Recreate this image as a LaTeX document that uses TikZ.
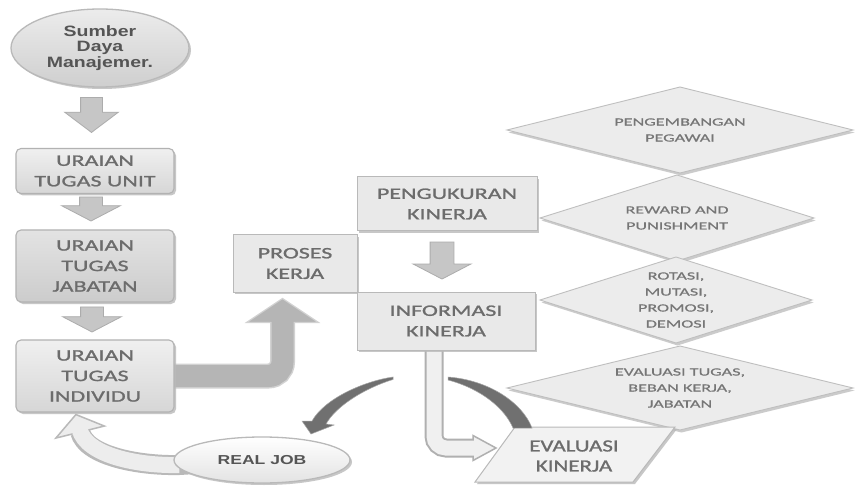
\documentclass[tikz,border=0pt]{standalone}
\usepackage{fontspec}
\usetikzlibrary{shapes.geometric,shapes.arrows,calc,shadows}
\newfontfamily\boxfont{Carlito}[FakeStretch=1.5,FakeBold=1.2]
\newfontfamily\diafont{Carlito}[FakeStretch=1.65,FakeBold=0.8]
\newfontfamily\evfont{Carlito}[FakeStretch=1.35,FakeBold=1.2]
\newfontfamily\sdmfont{Liberation Sans}[FakeStretch=1.3]
\newfontfamily\rjfont{Liberation Sans}[FakeStretch=1.35]
\definecolor{boxtxt}{RGB}{108,108,108}
\definecolor{diatxt}{RGB}{118,118,118}
\definecolor{elltxt}{RGB}{85,85,85}
\definecolor{arcgray}{RGB}{112,112,112}
\pgfdeclarelayer{paper}
\pgfdeclarelayer{links}
\pgfsetlayers{paper,links,main}

\begin{document}
\begin{tikzpicture}[x=1pt,y=-1pt,
  boxtext/.style={text=boxtxt, align=center, font=\boxfont\fontsize{16}{20.5}\selectfont},
  shadowed/.style={drop shadow={shadow xshift=2pt, shadow yshift=-2pt, fill=gray!55, opacity=0.8}},
  lbox/.style={boxtext, shadowed, rectangle, rounded corners=5pt, draw=gray!60, line width=1.1pt,
    top color=gray!12, bottom color=gray!32, minimum width=158pt, inner sep=0pt},
  mbox/.style={boxtext, shadowed, rectangle, draw=gray!55, line width=1pt, fill=gray!17, inner sep=0pt},
  diam/.style={draw=gray!50, line width=0.9pt, fill=gray!15,
    drop shadow={shadow xshift=1.5pt, shadow yshift=-2.5pt, fill=gray!50, opacity=0.8}},
  diatext/.style={text=diatxt, align=center, font=\diafont\fontsize{11}{16}\selectfont, inner sep=0pt},
  downarrow/.style={single arrow, rotate=-90, anchor=tip, draw=gray!65, line width=0.8pt, fill=gray!45,
    inner xsep=0pt, inner ysep=11pt, minimum width=0pt, single arrow head extend=18pt,
    single arrow tip angle=125},
  darkarc/.style={fill=arcgray, draw=gray!70, line width=0.5pt},
]
\begin{pgfonlayer}{paper}
  \fill[white] (0,0) rectangle (859,486);
\end{pgfonlayer}
\useasboundingbox (0,0) rectangle (859,486);

% ---- outcome diamonds ----
\coordinate (c1) at (680,130);
\coordinate (c2) at (677,218);
\coordinate (c3) at (676,300);
\coordinate (c4) at (680,388);
\path[diam] (c1) ++(-173,0) -- ++(173,-43) -- ++(173,43) -- ++(-173,43) -- cycle;
\path[diam] (c2) ++(-137,0) -- ++(137,-43) -- ++(137,43) -- ++(-137,43) -- cycle;
\path[diam] (c3) ++(-136,0) -- ++(136,-43) -- ++(136,43) -- ++(-136,43) -- cycle;
\path[diam] (c4) ++(-173,0) -- ++(173,-42) -- ++(173,42) -- ++(-173,42) -- cycle;
\node[diatext] (d1) at (c1) {PENGEMBANGAN\\PEGAWAI};
\node[diatext] (d2) at (c2) {REWARD AND\\PUNISHMENT};
\node[diatext] (d3) at (c3) {ROTASI,\\MUTASI,\\PROMOSI,\\DEMOSI};
\node[diatext] (d4) at (c4) {EVALUASI TUGAS,\\BEBAN KERJA,\\JABATAN};

% ---- left column ----
\node[ellipse, shadowed, draw=gray!55, line width=1.3pt, top color=gray!15, bottom color=gray!38,
      minimum width=178pt, minimum height=78pt, inner sep=0pt, text=elltxt, align=center,
      font=\sdmfont\bfseries\fontsize{15}{15.5}\selectfont] (sdm) at (100,48) {Sumber\\Daya\\Manajemer.};
\node[lbox, minimum height=45pt] (unit) at (95,171) {URAIAN\\TUGAS UNIT};
\node[lbox, minimum height=72pt, top color=gray!22, bottom color=gray!40] (jab) at (95,266) {URAIAN\\TUGAS\\JABATAN};
\node[lbox, minimum height=72pt] (ind) at (95,376) {URAIAN\\TUGAS\\INDIVIDU};

% ---- middle column ----
\node[mbox, minimum width=124pt, minimum height=57pt] (proses) at (295,263.5) {PROSES\\KERJA};
\node[mbox, minimum width=180pt, minimum height=54pt] (peng) at (447,204) {PENGUKURAN\\KINERJA};
\node[mbox, minimum width=178pt, minimum height=58pt] (info) at (446,321) {INFORMASI\\KINERJA};

% ---- evaluation parallelogram and real job ----
\path[shadowed, draw=gray!55, line width=1pt, fill=gray!10]
  (475,482) -- (515,427) -- (675,427) -- (633,482) -- cycle;
\node[text=boxtxt, align=center, font=\evfont\fontsize{17}{20}\selectfont] (evk) at (574,456) {EVALUASI\\KINERJA};
\coordinate (evtip) at (496,448);

\node[ellipse, shadowed, draw=gray!55, line width=1.3pt, top color=white, bottom color=gray!22,
      minimum width=176pt, minimum height=46pt, inner sep=0pt, text=elltxt,
      font=\rjfont\bfseries\fontsize{13}{15}\selectfont] (rj) at (262,460) {REAL JOB};

% ---- straight block arrows ----
\node[downarrow, minimum height=35pt, inner ysep=10.5pt, single arrow head extend=16pt,
      single arrow tip angle=106] (a1) at ($(unit.north)+(-3.5,-15)$) {};
\node[downarrow, minimum height=24pt] (a2) at ($(jab.north)+(-4,-8)$) {};
\node[downarrow, minimum height=25pt] (a3) at ($(ind.north)+(-3,-7)$) {};
\node[downarrow, minimum height=37pt, inner ysep=11.5pt, single arrow head extend=17pt] (a4)
      at ($(info.north)+(-4,-12)$) {};

\begin{pgfonlayer}{links}
  % INDIVIDU -> PROSES KERJA
  \coordinate (tipA) at ($(proses.south west)!0.4!(proses.south east)+(0,6)$);
  \draw[line width=25pt, draw=gray!35, rounded corners=14pt] (ind.center) -| ($(tipA)+(0,23)$);
  \filldraw[draw=gray!35, line width=1.2pt, fill=gray!58]
    ($(tipA)+(-36,24)$) -- (tipA) -- ($(tipA)+(36,24)$) -- cycle;
  \draw[line width=22pt, draw=gray!58, rounded corners=14pt] (ind.center) -| ($(tipA)+(0,20)$);

  % INFORMASI KINERJA -> EVALUASI KINERJA
  \draw[line width=19pt, draw=gray!62, rounded corners=12pt] ($(info.center)+(-12,0)$) |- ($(evtip)+(-22,0)$);
  \filldraw[draw=gray!62, line width=1.5pt, fill=gray!12]
    ($(evtip)+(-23,-12.5)$) -- (evtip) -- ($(evtip)+(-23,12.5)$) -- cycle;
  \draw[line width=15pt, draw=gray!12, rounded corners=12pt] ($(info.center)+(-12,0)$) |- ($(evtip)+(-20,0)$);

  % REAL JOB -> INDIVIDU
  \coordinate (tipR) at ($(ind.south west)!0.38!(ind.south east)+(0,2)$);
  \draw[line width=20pt, draw=gray!55] (rj.center) -- ($(rj.west)+(6,5)$)
    .. controls ($(rj.west)+(-34,6)$) and ($(tipR)+(10.3,41.5)$) .. ($(tipR)+(4.3,17.5)$);
  \filldraw[draw=gray!55, line width=1.5pt, fill=gray!14]
    ($(tipR)+(-20,23.5)$) -- (tipR) -- ($(tipR)+(28.5,11.5)$) -- cycle;
  \draw[line width=16pt, draw=gray!14] ($(rj.west)+(6,5)$)
    .. controls ($(rj.west)+(-34,6)$) and ($(tipR)+(10.3,41.5)$) .. ($(tipR)+(3.5,14.5)$);
\end{pgfonlayer}

% ---- cycle arcs around the information arrow ----
\coordinate (arcL) at (393,377);
\coordinate (arcR) at (448,377);
\path[darkarc] (arcL) .. controls (365,381) and (325,398) .. (312,421)
  -- (302,421) -- (311,434) -- (334,425) -- (326,424)
  .. controls (336,406) and (365,388) .. (393,379.5) -- cycle;
\path[darkarc] (arcR) .. controls (488,380) and (522,402) .. (532,428)
  -- (513,428) .. controls (505,409) and (482,389) .. (448,380) -- cycle;
\end{tikzpicture}
\end{document}
